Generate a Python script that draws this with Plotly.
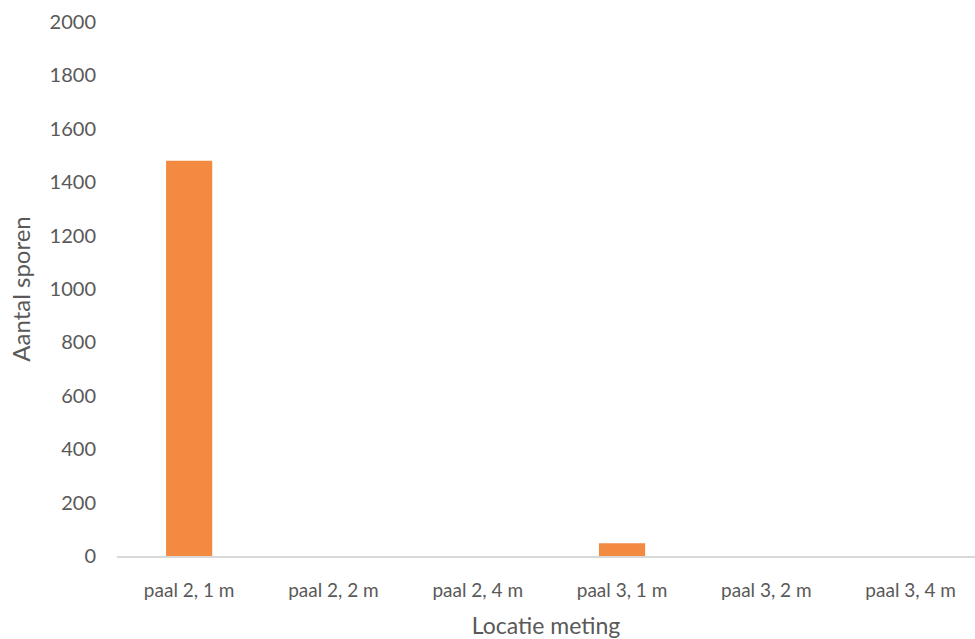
import plotly.graph_objects as go

# Meetlocaties en getelde sporen per locatie
locaties = ["paal 2, 1 m", "paal 2, 2 m", "paal 2, 4 m", "paal 3, 1 m", "paal 3, 2 m", "paal 3, 4 m"]
aantal_sporen = [1480, 0, 0, 48, 0, 0]

y_ticks = [0, 200, 400, 600, 800, 1000, 1200, 1400, 1600, 1800, 2000]

tekst_kleur = "#595959"
font_naam = "Lato"

fig = go.Figure(
    go.Bar(
        x=locaties,
        y=aantal_sporen,
        marker=dict(color="#F28A42", line=dict(width=0)),
    )
)

fig.update_layout(
    width=975,
    height=639,
    margin=dict(l=117, r=0, t=22, b=83),
    paper_bgcolor="white",
    plot_bgcolor="white",
    bargap=0.68,
    showlegend=False,
    font=dict(family=font_naam, color=tekst_kleur, size=18),
)

fig.update_xaxes(
    range=[-0.5, 5.446],
    showgrid=False,
    showline=True,
    linecolor="#D9D9D9",
    linewidth=2,
    ticks="",
    tickfont=dict(size=19, color=tekst_kleur),
    ticklabelstandoff=16,
    title=dict(text="Locatie meting", font=dict(size=23, color=tekst_kleur), standoff=20),
)

fig.update_yaxes(
    range=[0, 2000],
    tickvals=y_ticks,
    showgrid=False,
    showline=False,
    zeroline=False,
    ticks="",
    tickfont=dict(size=20, color=tekst_kleur),
    ticklabelstandoff=20,
    title=dict(text="Aantal sporen", font=dict(size=24, color=tekst_kleur), standoff=12),
)

fig.write_html("out.html")
